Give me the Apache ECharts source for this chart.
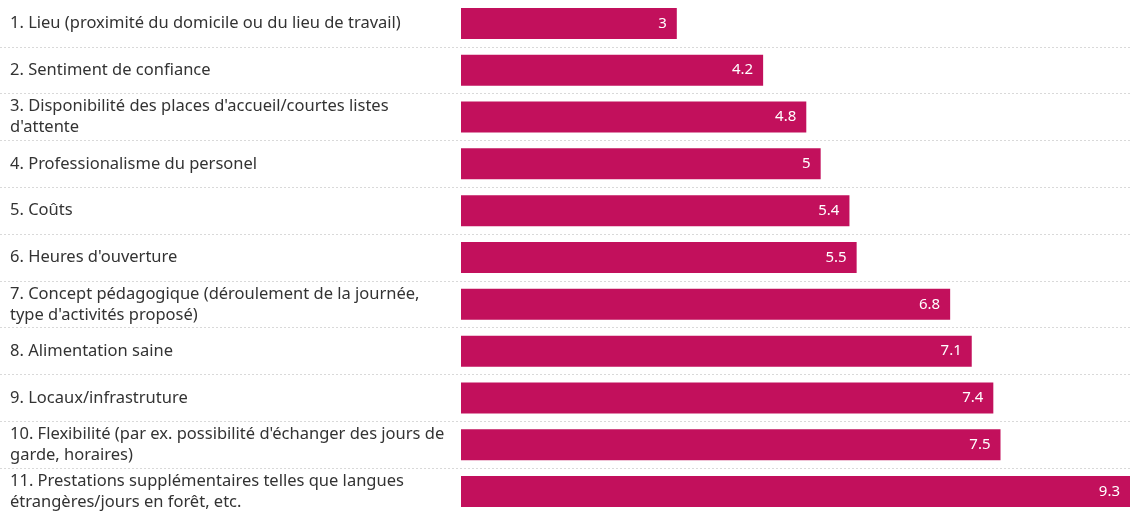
<!DOCTYPE html>
<html><head><meta charset="utf-8">
<style>html,body{margin:0;padding:0;background:#fff}#c{width:1130px;height:515px}</style>
<script src="https://cdn.jsdelivr.net/npm/echarts@6/dist/echarts.min.js"></script>
</head><body><div id="c"></div>
<script>
const categories = [
  "1. Lieu (proximité du domicile ou du lieu de travail)",
  "2. Sentiment de confiance",
  "3. Disponibilité des places d'accueil/courtes listes\nd'attente",
  "4. Professionalisme du personel",
  "5. Coûts",
  "6. Heures d'ouverture",
  "7. Concept pédagogique (déroulement de la journée,\ntype d'activités proposé)",
  "8. Alimentation saine",
  "9. Locaux/infrastruture",
  "10. Flexibilité (par ex. possibilité d'échanger des jours de\ngarde, horaires)",
  "11. Prestations supplémentaires telles que langues\nétrangères/jours en forêt, etc."
];
const values = [3, 4.2, 4.8, 5, 5.4, 5.5, 6.8, 7.1, 7.4, 7.5, 9.3];

const FONT = "'Noto Sans', 'Open Sans', sans-serif";
const chart = echarts.init(document.getElementById('c'), null, {renderer: 'canvas'});
chart.setOption({
  animation: false,
  grid: [
    {left: 461, width: 669, top: -1, height: 523},
    {left: 0, width: 1130, top: -1, height: 523}
  ],
  xAxis: [
    {type: 'value', gridIndex: 0, min: 0, max: 9.3, show: false},
    {type: 'value', gridIndex: 1, min: 0, max: 1, show: false}
  ],
  yAxis: [
    {
      type: 'category', gridIndex: 0, data: categories, inverse: true,
      axisLine: {show: false}, axisTick: {show: false}, splitLine: {show: false},
      axisLabel: {
        margin: 451, align: 'left', color: '#333', fontFamily: FONT,
        fontSize: 16.5, lineHeight: 21
      }
    },
    {
      type: 'category', gridIndex: 1, data: categories, inverse: true,
      axisLine: {show: false}, axisTick: {show: false}, axisLabel: {show: false},
      splitLine: {show: true, interval: function (i) { return i !== 0; },
        lineStyle: {color: '#d9d9d9', type: [2, 2], width: 1}}
    }
  ],
  series: [{
    type: 'bar', xAxisIndex: 0, yAxisIndex: 0, data: values,
    barWidth: 31,
    itemStyle: {color: '#c2105c'},
    label: {
      show: true, position: 'insideRight', distance: 10,
      color: '#fff', fontFamily: FONT, fontSize: 15
    }
  }]
});
</script></body></html>
